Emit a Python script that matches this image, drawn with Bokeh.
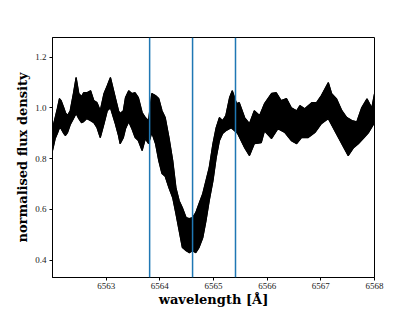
from bokeh.plotting import figure
from bokeh.models import Span, Range1d, FixedTicker
from bokeh.embed import file_html
from bokeh.resources import INLINE

# Upper envelope of the overplotted spectra (wavelength in Angstrom, normalised flux)
wl_upper = [6562.00, 6562.05, 6562.09, 6562.13, 6562.16, 6562.21, 6562.24, 6562.28, 6562.33,
            6562.39, 6562.44, 6562.49, 6562.54, 6562.58, 6562.64, 6562.71, 6562.77, 6562.83,
            6562.89, 6562.96, 6563.02, 6563.08, 6563.17, 6563.23, 6563.26, 6563.32, 6563.36,
            6563.42, 6563.48, 6563.54, 6563.60, 6563.67, 6563.73, 6563.79, 6563.85, 6563.92,
            6563.98, 6564.04, 6564.10, 6564.17, 6564.24, 6564.30, 6564.36, 6564.42, 6564.49,
            6564.55, 6564.61, 6564.67, 6564.73, 6564.80, 6564.86, 6564.92, 6564.99, 6565.05,
            6565.11, 6565.17, 6565.23, 6565.30, 6565.35, 6565.43, 6565.48, 6565.58, 6565.67,
            6565.76, 6565.86, 6565.95, 6566.08, 6566.17, 6566.26, 6566.36, 6566.45, 6566.55,
            6566.61, 6566.70, 6566.83, 6566.92, 6567.01, 6567.14, 6567.20, 6567.29, 6567.39,
            6567.48, 6567.58, 6567.67, 6567.76, 6567.86, 6567.95, 6568.00]
flux_upper = [0.918, 0.962, 0.997, 1.037, 1.029, 1.001, 0.982, 0.970, 0.989,
              1.057, 1.120, 1.057, 1.045, 1.060, 1.060, 1.068, 1.029, 1.021,
              0.989, 1.057, 1.088, 1.120, 1.041, 0.989, 0.978, 0.989, 1.041,
              1.068, 1.057, 1.060, 1.041, 0.982, 0.962, 0.950, 1.057, 1.049,
              1.037, 0.989, 0.962, 0.883, 0.792, 0.685, 0.634, 0.606, 0.567,
              0.563, 0.567, 0.587, 0.622, 0.662, 0.713, 0.764, 0.859, 0.922,
              0.962, 0.950, 0.970, 1.041, 1.068, 1.017, 1.021, 0.962, 0.938,
              0.989, 0.970, 1.017, 1.057, 1.060, 1.029, 1.037, 1.001, 0.989,
              1.009, 0.997, 1.021, 1.021, 1.049, 1.100, 1.057, 1.037, 0.990,
              0.963, 0.950, 0.945, 1.000, 1.036, 1.000, 1.056]

# Lower envelope of the overplotted spectra
wl_lower = [6562.00, 6562.05, 6562.09, 6562.13, 6562.16, 6562.21, 6562.24, 6562.28, 6562.33,
            6562.39, 6562.44, 6562.49, 6562.54, 6562.58, 6562.64, 6562.71, 6562.77, 6562.83,
            6562.89, 6562.96, 6563.02, 6563.08, 6563.17, 6563.23, 6563.26, 6563.32, 6563.36,
            6563.42, 6563.48, 6563.54, 6563.60, 6563.67, 6563.73, 6563.79, 6563.85, 6563.92,
            6563.98, 6564.04, 6564.10, 6564.17, 6564.24, 6564.30, 6564.36, 6564.42, 6564.49,
            6564.55, 6564.61, 6564.67, 6564.73, 6564.80, 6564.86, 6564.92, 6564.99, 6565.05,
            6565.11, 6565.17, 6565.23, 6565.33, 6565.45, 6565.58, 6565.67, 6565.76, 6565.89,
            6565.95, 6566.08, 6566.20, 6566.33, 6566.45, 6566.55, 6566.64, 6566.76, 6566.89,
            6567.01, 6567.14, 6567.26, 6567.39, 6567.51, 6567.61, 6567.70, 6567.79, 6567.89,
            6568.00]
flux_lower = [0.832, 0.879, 0.899, 0.922, 0.918, 0.899, 0.891, 0.903, 0.934,
              0.958, 0.978, 0.958, 0.942, 0.946, 0.958, 0.950, 0.942, 0.922,
              0.883, 0.938, 0.989, 1.001, 0.938, 0.891, 0.859, 0.883, 0.918,
              0.946, 0.918, 0.883, 0.871, 0.832, 0.879, 0.859, 0.903, 0.859,
              0.792, 0.741, 0.730, 0.685, 0.646, 0.583, 0.516, 0.449, 0.437,
              0.429, 0.437, 0.429, 0.449, 0.488, 0.555, 0.634, 0.713, 0.804,
              0.871, 0.899, 0.910, 0.922, 0.899, 0.843, 0.812, 0.859, 0.863,
              0.910, 0.879, 0.918, 0.903, 0.871, 0.859, 0.883, 0.883, 0.903,
              0.938, 0.958, 0.910, 0.859, 0.812, 0.843, 0.859, 0.879, 0.903,
              0.942]

line_centres = [6563.81, 6564.61, 6565.41]
x_ticks = [6563, 6564, 6565, 6566, 6567, 6568]
y_ticks = [0.4, 0.6, 0.8, 1.0, 1.2]

TICK_FONT = "Liberation Serif"
LABEL_FONT = "DejaVu Serif"

W, H = 415, 311
p = figure(width=W, height=H, output_backend="svg", toolbar_location=None,
           x_range=Range1d(6562.0, 6568.0), y_range=Range1d(0.331, 1.278),
           min_border_left=52, min_border_right=W - 374, min_border_top=37,
           min_border_bottom=H - 277,
           background_fill_color="white", border_fill_color="white")

p.outline_line_color = "black"
p.outline_line_width = 1
p.xgrid.visible = False
p.ygrid.visible = False

band_x = wl_upper + wl_lower[::-1]
band_y = flux_upper + flux_lower[::-1]
p.patch(band_x, band_y, fill_color="black", line_color="black", line_width=1.0)
p.line(wl_upper, flux_upper, line_color="black", line_width=1.3)
p.line(wl_lower, flux_lower, line_color="black", line_width=1.3)

for c in line_centres:
    p.add_layout(Span(location=c, dimension="height", line_color="#1f77b4", line_width=1.5))

for ax in (p.xaxis[0], p.yaxis[0]):
    ax.axis_line_color = "black"
    ax.major_tick_in = 0
    ax.major_tick_out = 3
    ax.minor_tick_out = 0
    ax.minor_tick_in = 0
    ax.major_label_text_font = TICK_FONT
    ax.major_label_text_font_size = "9px"
    ax.major_label_text_color = "#222222"
    ax.axis_label_text_font = LABEL_FONT
    ax.axis_label_text_font_style = "bold"
    ax.axis_label_text_font_size = "13px"
    ax.axis_label_text_color = "black"
    ax.major_label_standoff = 3

p.xaxis.ticker = FixedTicker(ticks=x_ticks)
p.yaxis.ticker = FixedTicker(ticks=y_ticks)
p.xaxis.major_label_overrides = {t: str(t) for t in x_ticks}
p.yaxis.major_label_overrides = {t: f"{t:.1f}" for t in y_ticks}
p.yaxis.axis_label = "normalised flux density"
p.yaxis.axis_label_standoff = 2
p.xaxis.axis_label = "wavelength [Å]"
p.xaxis.axis_label_standoff = 0
p.xaxis.major_label_standoff = 2

open("out.html", "w").write(file_html(p, INLINE))
